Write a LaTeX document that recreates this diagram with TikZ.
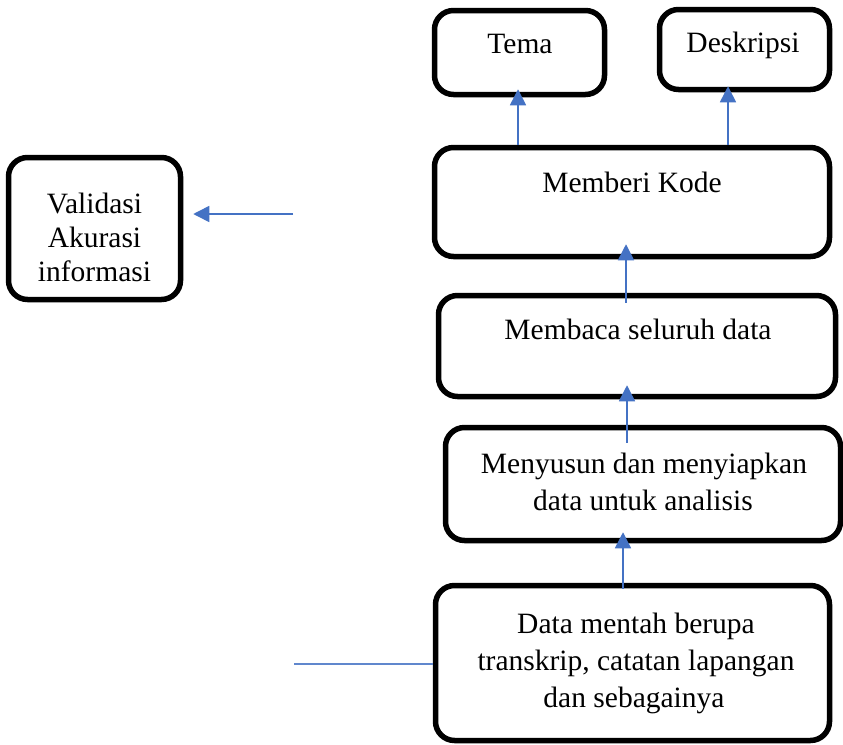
\documentclass[tikz,border=0pt]{standalone}
\usepackage{fontspec}
\setmainfont{Liberation Serif}
\usetikzlibrary{arrows.meta,calc}
\definecolor{flowblue}{HTML}{4472C4}
\tikzset{
  stepbox/.style={draw=black, line width=5.5pt, rounded corners=19pt, inner sep=0pt, fill=white},
  txt/.style={anchor=base, inner sep=0pt, font=\fontsize{29.5}{36}\selectfont},
  conn/.style={draw=flowblue, line width=1.5pt, -{Triangle[width=16pt,length=16pt]}},
  plain/.style={draw=flowblue!85, line width=1.8pt}
}
\begin{document}
\begin{tikzpicture}[x=1pt,y=-1pt]
  \useasboundingbox (0,0) rectangle (843,744);

  % boxes
  \node[stepbox, minimum width=170pt, minimum height=84pt]  (tema)  at (519.5,52.5) {};
  \node[stepbox, minimum width=170pt, minimum height=80pt]  (desk)  at (744.5,49.5) {};
  \node[stepbox, minimum width=395pt, minimum height=109pt] (kode)  at (632,202)    {};
  \node[stepbox, minimum width=397pt, minimum height=101pt] (baca)  at (637,346)    {};
  \node[stepbox, minimum width=395pt, minimum height=113pt] (susun) at (643,484)    {};
  \node[stepbox, minimum width=394pt, minimum height=155pt] (data)  at (632.5,663)  {};
  \node[stepbox, minimum width=172pt, minimum height=142pt] (valid) at (94.5,228.5) {};

  % labels
  \node[txt] (temat)  at (520,53)  {Tema};
  \node[txt] (deskt)  at (743,52)  {Deskripsi};
  \node[txt] (kodet)  at (632,192) {Memberi Kode};
  \node[txt] (bacat)  at (638,339) {Membaca seluruh data};
  \node[txt] (susuna) at (644,473) {Menyusun dan menyiapkan};
  \node[txt] (susunb) at (643,510) {data untuk analisis};
  \node[txt] (dataa)  at (636,633) {Data mentah berupa};
  \node[txt] (datab)  at (636,670) {transkrip, catatan lapangan};
  \node[txt] (datac)  at (634,707) {dan sebagainya};
  \node[txt] (valida) at (94.5,213) {Validasi};
  \node[txt] (validb) at (94.5,247) {Akurasi};
  \node[txt] (validc) at (94.5,281) {informasi};

  % connectors
  \draw[conn] ($(data.north)+(-9.5,6)$)  -- ($(susun.south)+(-20,-11)$);
  \draw[conn] ($(susun.north)+(-16,18)$) -- ($(baca.south)+(-10,-14)$);
  \draw[conn] ($(baca.north)+(-11,10)$)  -- ($(kode.south)+(-6,-15)$);
  \draw[conn] ($(kode.north)+(-114,0)$)  -- ($(tema.south)+(-1.5,-8)$);
  \draw[conn] ($(kode.north)+(96,0)$)    -- ($(desk.south)+(-16.5,-6)$);

  \coordinate (vsrc) at (293,214);
  \draw[conn] (vsrc) -- ($(valid.east)+(10,-14.5)$);

  \coordinate (dsrc) at (294,664);
  \draw[plain] (dsrc) -- (dsrc -| data.west);
\end{tikzpicture}
\end{document}
